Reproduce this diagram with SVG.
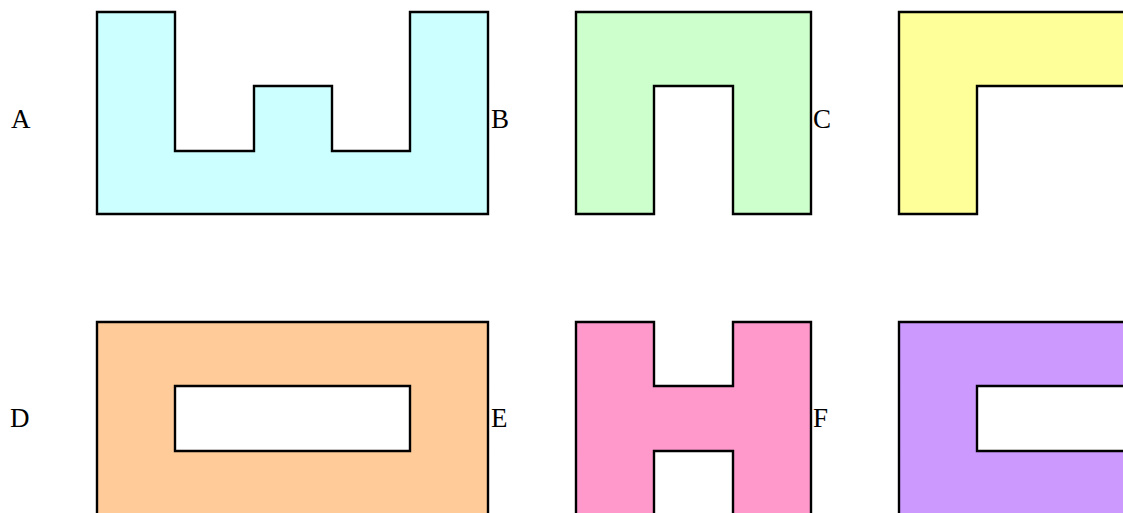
<svg xmlns="http://www.w3.org/2000/svg" width="1123" height="513" viewBox="0 0 1123 513">
<style>
.s{stroke:#000;stroke-width:2.4;stroke-linejoin:miter}
.l{font-family:"Liberation Serif","Times New Roman",serif;font-size:27px;fill:#000}
</style>
<rect width="1123" height="513" fill="#fff"/>
<g id="shapeA"><path class="s" fill="#CCFFFF" d="M97,12 H175 V151 H254 V86 H332 V151 H410 V12 H488 V214 H97 Z"/></g>
<g id="shapeB"><path class="s" fill="#CCFFCC" d="M576,12 H811 V214 H733 V86 H654 V214 H576 Z"/></g>
<g id="shapeC"><path class="s" fill="#FFFF99" d="M899,12 H1130 V86 H977 V214 H899 Z"/></g>
<g id="shapeD"><path class="s" fill="#FFCC99" fill-rule="evenodd" d="M97,322 H488 V520 H97 Z M175,386 H410 V451 H175 Z"/></g>
<g id="shapeE"><path class="s" fill="#FF99CC" d="M576,322 H654 V386 H733 V322 H811 V520 H733 V451 H654 V520 H576 Z"/></g>
<g id="shapeF"><path class="s" fill="#CC99FF" fill-rule="evenodd" d="M899,322 H1130 V520 H899 Z M977,386 H1130 V451 H977 Z"/></g>
<g id="labels">
<text class="l" x="11" y="128">A</text>
<text class="l" x="491" y="128">B</text>
<text class="l" x="813" y="128">C</text>
<text class="l" x="10" y="427">D</text>
<text class="l" x="491" y="427">E</text>
<text class="l" x="813" y="427">F</text>
</g>
<g id="connectors"></g>
</svg>
